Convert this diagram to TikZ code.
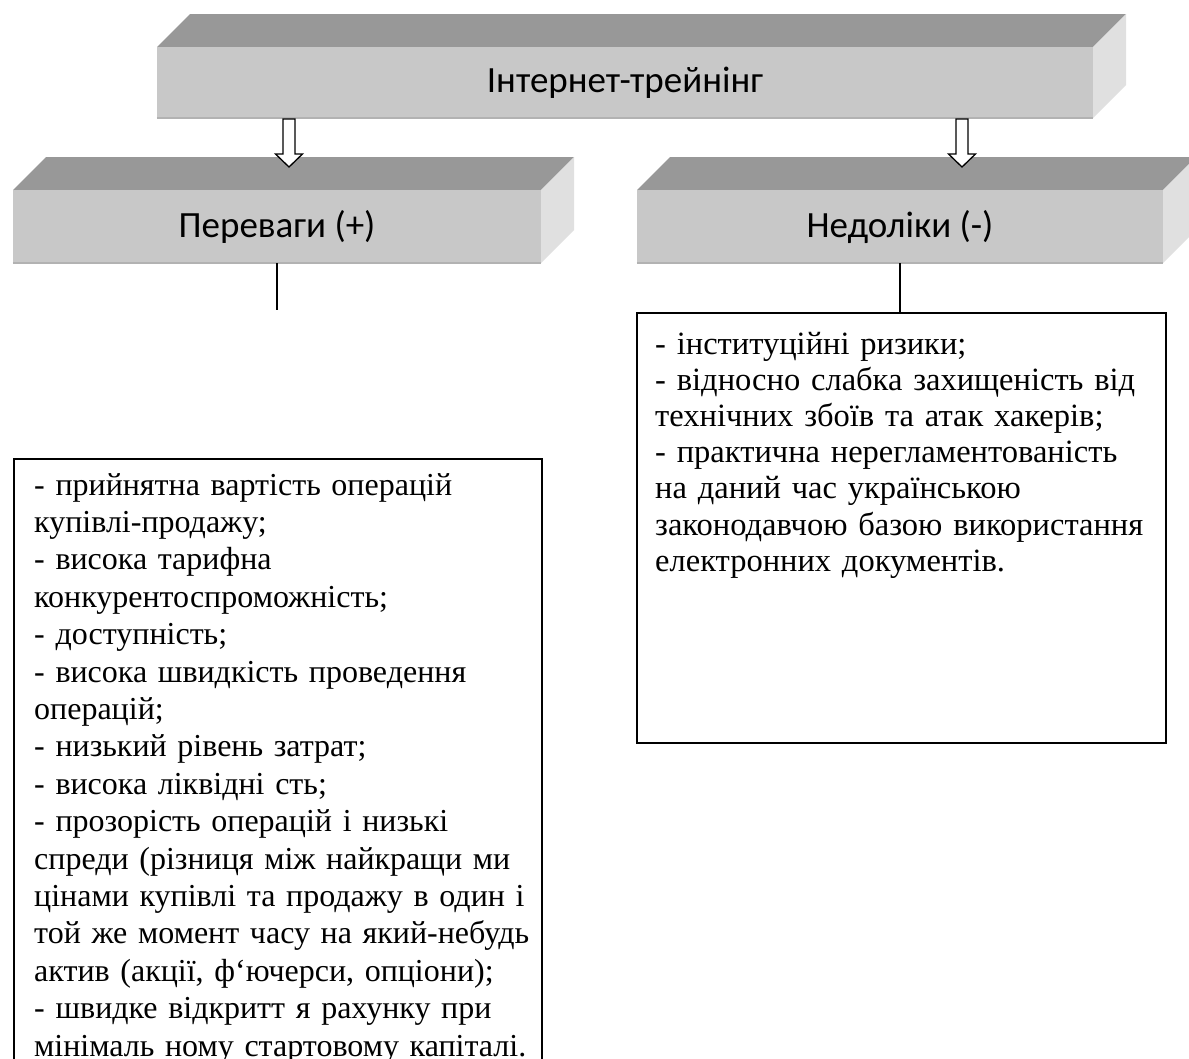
\documentclass[tikz,border=0pt]{standalone}
\usepackage{fontspec}
\setmainfont{Liberation Serif}
\newfontfamily\calibri{Carlito}
\definecolor{topgray}{RGB}{152,152,152}
\definecolor{frontgray}{RGB}{200,200,200}
\definecolor{sidegray}{RGB}{224,224,224}
\definecolor{edgegray}{RGB}{178,178,178}
\tikzset{
  frontface/.style={fill=frontgray, inner sep=0pt, font=\calibri\fontsize{37}{42}\selectfont},
  textbox/.style={draw=black, line width=2pt, inner sep=0pt, fill=none},
  listtext/.style={inner sep=0pt, align=left, text width=525pt},
  link/.style={draw=black, line width=1.4pt},
  hollowarrow/.pic={\draw[fill=white, line width=1.3pt, line join=miter]
     (-6,0) -- (-6,35) -- (-13.5,35) -- (0,48) -- (13.5,35) -- (6,35) -- (6,0) -- cycle;}
}
\begin{document}
\begin{tikzpicture}[x=1pt,y=-1pt]
\useasboundingbox (0,0) rectangle (1189,1058);
\clip (0,0) rectangle (1189,1058);
\fill[white] (0,0) rectangle (1189,1058);

% top 3D box
\fill[topgray] (157,47) -- (190,14) -- (1126,14) -- (1093,47) -- cycle;
\fill[sidegray] (1093,47) -- (1126,14) -- (1126,85) -- (1093,118) -- cycle;
\node[frontface, minimum width=936pt, minimum height=71pt] (top) at (625,82.5) {Інтернет-трейнінг};
\draw[edgegray, line width=1.5pt] (top.south west) -- (top.south east);

% left 3D box
\fill[topgray] (13,190) -- (46,157) -- (574,157) -- (541,190) -- cycle;
\fill[sidegray] (541,190) -- (574,157) -- (574,230) -- (541,263) -- cycle;
\node[frontface, minimum width=528pt, minimum height=73pt] (plus) at (277,226.5) {Переваги (+)};
\draw[edgegray, line width=1.5pt] (plus.south west) -- (plus.south east);

% right 3D box
\fill[topgray] (637,190) -- (670,157) -- (1196,157) -- (1163,190) -- cycle;
\fill[sidegray] (1163,190) -- (1196,157) -- (1196,230) -- (1163,263) -- cycle;
\node[frontface, minimum width=526pt, minimum height=73pt] (minus) at (900,226.5) {Недоліки (-)};
\draw[edgegray, line width=1.5pt] (minus.south west) -- (minus.south east);

% hollow arrows
\coordinate (a1) at (289,119);
\coordinate (a2) at (962,119);
\pic at (a1) {hollowarrow};
\pic at (a2) {hollowarrow};

% text boxes
\node[textbox, minimum width=528.5pt, minimum height=640pt, anchor=north west] (prosbox) at (12.5,458) {};
\node[textbox, minimum width=529pt, minimum height=430pt, anchor=north west] (consbox) at (636,312) {};

% connectors
\coordinate (plusend) at (277,310);
\draw[link] (plus.south) -- (plusend);
\draw[link] (minus.south) -- (minus.south |- consbox.north);

% texts
\node[listtext, anchor=base west, font=\fontsize{32}{37.4}\selectfont] (pros) at (34,495) {- прийнятна вартість операцій\\
купівлі-продажу;\\
- висока тарифна\\
конкурентоспроможність;\\
- доступність;\\
- висока швидкість проведення\\
операцій;\\
- низький рівень затрат;\\
- висока ліквідні сть;\\
- прозорість операцій і низькі\\
спреди (різниця між найкращи ми\\
цінами купівлі та продажу в один і\\
той же момент часу на який-небудь\\
актив (акції, ф‘ючерси, опціони);\\
- швидке відкритт я рахунку при\\
мінімаль ному стартовому капіталі.};

\node[listtext, anchor=base west, font=\fontsize{32.5}{36.2}\selectfont] (cons) at (655,354) {- інституційні ризики;\\
- відносно слабка захищеність від\\
технічних збоїв та атак хакерів;\\
- практична нерегламентованість\\
на даний час українською\\
законодавчою базою використання\\
електронних документів.};
\end{tikzpicture}
\end{document}
